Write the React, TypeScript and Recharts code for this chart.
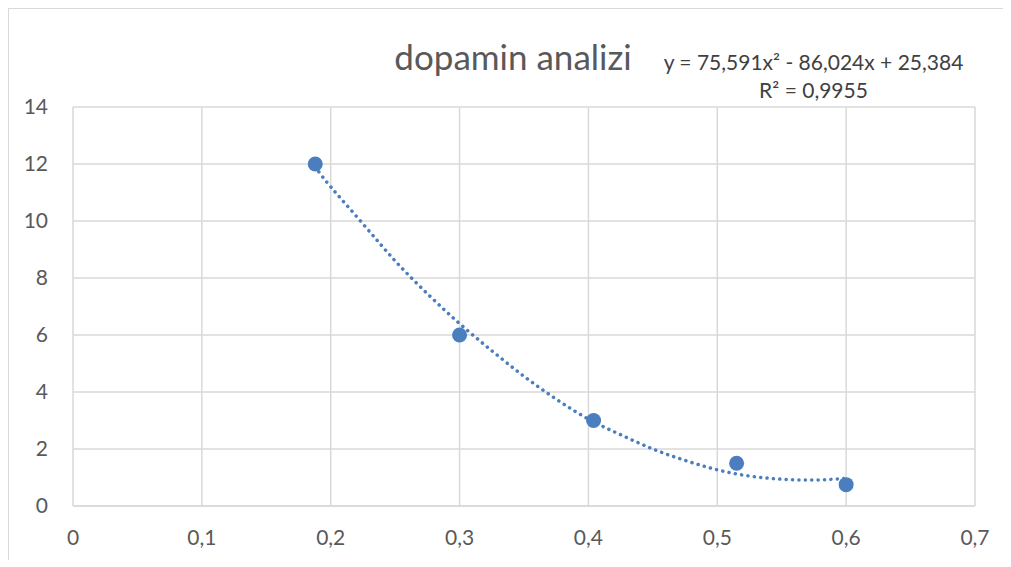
import React from 'react';
import {
    ComposedChart,
    Line,
    Scatter,
    XAxis,
    YAxis,
    CartesianGrid
} from 'recharts';

// measured points
const concX = [0.188, 0.3, 0.404, 0.515, 0.6];
const concY = [12, 6, 3, 1.5, 0.75];

// dotted poly trendline
const trendX = [0.188, 0.2, 0.225, 0.25, 0.275, 0.3, 0.325, 0.35, 0.375, 0.4, 0.425, 0.45, 0.475, 0.5, 0.525, 0.55, 0.575, 0.6];
const trendY = [11.9, 11.2, 9.9, 8.6, 7.45, 6.4, 5.45, 4.55, 3.75, 3.05, 2.5, 2.0, 1.6, 1.27, 1.05, 0.94, 0.91, 0.97];

const xTicks = [0, 0.1, 0.2, 0.3, 0.4, 0.5, 0.6, 0.7];
const yTicks = [0, 2, 4, 6, 8, 10, 12, 14];

const title = 'dopamin analizi';
const equation = 'y = 75,591x² - 86,024x + 25,384';
const rSquared = 'R² = 0,9955';

const FONT = 'Lato, "Liberation Sans", sans-serif';
const TEXT = '#595959';
const GRID = '#d9d9d9';
const BLUE = '#4a7ebf';

const points = concX.map((x, i) => ({ x, y: concY[i] }));
const trend = trendX.map((x, i) => ({ x, t: trendY[i] }));

const fmt = (v: number) => String(v).replace('.', ',');

export default function App() {
    return (
        <div
            style={{
                position: 'relative',
                width: 995,
                height: 551,
                borderLeft: `1px solid ${GRID}`,
                borderTop: `1px solid ${GRID}`,
                background: '#fff',
                fontFamily: FONT
            }}
        >
            <div style={{ position: 'absolute', left: 0, width: 1008, top: 27, textAlign: 'center', fontSize: 35, lineHeight: '40px', color: TEXT }}>
                {title}
            </div>
            <div style={{ position: 'absolute', left: 604, width: 401, top: 39, textAlign: 'center', fontSize: 21, lineHeight: '28px', color: '#404040' }}>
                <div>{equation}</div>
                <div>{rSquared}</div>
            </div>
            <ComposedChart
                width={994}
                height={550}
                margin={{ top: 98, right: 28, left: 0, bottom: 23 }}
            >
                <CartesianGrid stroke={GRID} strokeWidth={1.5} />
                <XAxis
                    dataKey="x"
                    type="number"
                    domain={[0, 0.7]}
                    ticks={xTicks}
                    tickFormatter={fmt}
                    allowDataOverflow
                    height={30}
                    axisLine={{ stroke: GRID, strokeWidth: 1.5 }}
                    tickLine={false}
                    tickSize={0}
                    tickMargin={24}
                    tick={{ fill: TEXT, fontSize: 21, fontFamily: FONT }}
                />
                <YAxis
                    type="number"
                    domain={[0, 14]}
                    ticks={yTicks}
                    width={64}
                    axisLine={false}
                    tickLine={false}
                    tickSize={0}
                    tickMargin={25}
                    tick={{ fill: TEXT, fontSize: 21, fontFamily: FONT }}
                />
                <Line
                    data={trend}
                    dataKey="t"
                    type="natural"
                    stroke={BLUE}
                    strokeWidth={3.5}
                    strokeDasharray="0.1 6.3"
                    strokeLinecap="round"
                    dot={false}
                    activeDot={false}
                    isAnimationActive={false}
                />
                <Scatter
                    data={points}
                    dataKey="y"
                    fill={BLUE}
                    shape={(p: any) => <circle cx={p.cx} cy={p.cy} r={7.5} fill={BLUE} />}
                    isAnimationActive={false}
                />
            </ComposedChart>
        </div>
    );
}
